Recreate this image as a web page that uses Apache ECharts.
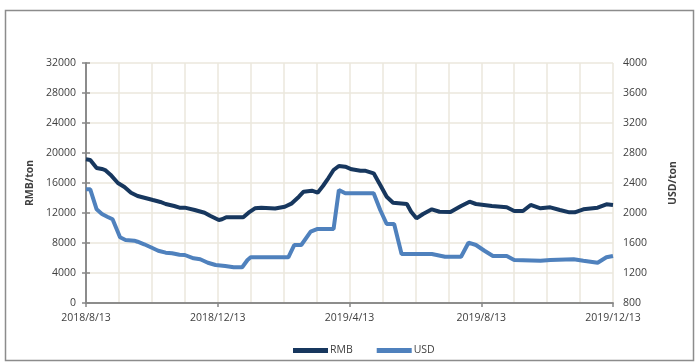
<!DOCTYPE html>
<html>
<head>
<meta charset="utf-8">
<script src="https://cdn.jsdelivr.net/npm/echarts@6/dist/echarts.min.js"></script>
<style>html,body{margin:0;padding:0;background:#fff;}#c{width:695px;height:364px;}</style>
</head>
<body>
<div id="c"></div>
<script>
const tickLabels = ['2018/8/13', '2018/12/13', '2019/4/13', '2019/8/13', '2019/12/13'];
const rmbDates = ['2018-08-13','2018-08-17','2018-08-23','2018-08-28','2018-08-31','2018-09-05','2018-09-12','2018-09-18','2018-09-24','2018-09-30','2018-10-07','2018-10-14','2018-10-21','2018-10-26','2018-11-03','2018-11-08','2018-11-13','2018-11-22','2018-12-01','2018-12-06','2018-12-14','2018-12-17','2018-12-21','2019-01-06','2019-01-11','2019-01-17','2019-01-23','2019-02-05','2019-02-14','2019-02-20','2019-02-26','2019-03-02','2019-03-09','2019-03-14','2019-03-19','2019-03-24','2019-03-29','2019-04-03','2019-04-09','2019-04-15','2019-04-23','2019-04-27','2019-05-05','2019-05-11','2019-05-17','2019-05-23','2019-06-05','2019-06-09','2019-06-14','2019-06-20','2019-06-28','2019-07-05','2019-07-15','2019-07-25','2019-08-02','2019-08-08','2019-08-23','2019-09-06','2019-09-13','2019-09-21','2019-09-28','2019-10-07','2019-10-16','2019-10-25','2019-11-03','2019-11-08','2019-11-16','2019-11-29','2019-12-07','2019-12-13'];
const rmbValues = [19160,19070,18000,17870,17730,17110,16000,15470,14710,14270,14000,13730,13470,13200,12930,12710,12710,12400,12040,11640,11070,11160,11430,11430,12040,12630,12710,12600,12840,13290,14170,14840,14970,14710,15600,16630,17730,18270,18170,17830,17640,17640,17290,15730,14170,13370,13200,12170,11290,11870,12490,12170,12130,12930,13510,13200,12930,12760,12270,12270,13070,12630,12760,12400,12090,12090,12490,12710,13160,13070];
const usdDates = ['2018-08-13','2018-08-17','2018-08-23','2018-08-28','2018-09-02','2018-09-07','2018-09-14','2018-09-19','2018-09-27','2018-09-30','2018-10-06','2018-10-12','2018-10-19','2018-10-26','2018-11-01','2018-11-08','2018-11-13','2018-11-21','2018-11-27','2018-12-04','2018-12-11','2018-12-20','2018-12-28','2019-01-05','2019-01-10','2019-01-13','2019-02-17','2019-02-22','2019-02-28','2019-03-08','2019-03-14','2019-03-29','2019-04-03','2019-04-09','2019-05-05','2019-05-11','2019-05-17','2019-05-24','2019-05-31','2019-06-28','2019-07-10','2019-07-25','2019-08-01','2019-08-08','2019-08-16','2019-08-24','2019-09-06','2019-09-13','2019-10-07','2019-10-16','2019-11-07','2019-11-16','2019-11-29','2019-12-07','2019-12-13'];
const usdValues = [2316,2316,2049,1987,1951,1916,1676,1640,1631,1617,1583,1543,1497,1471,1463,1444,1440,1396,1383,1337,1307,1293,1276,1276,1373,1409,1409,1573,1573,1751,1787,1787,2307,2263,2263,2040,1853,1853,1453,1453,1417,1417,1604,1573,1497,1427,1427,1373,1364,1373,1383,1364,1337,1409,1427];

// month offset from 2018-08-13 (each month = one unit, like the reference's month grid)
function monthPos(s) {
  const p = s.split('-').map(Number);
  const y = p[0], m = p[1], d = p[2];
  let k = (y - 2018) * 12 + (m - 8);
  let start = Date.UTC(y, m - 1, 13);
  if (d < 13) { k -= 1; start = Date.UTC(y, m - 2, 13); }
  const sd = new Date(start);
  const next = Date.UTC(sd.getUTCFullYear(), sd.getUTCMonth() + 1, 13);
  const t = Date.UTC(y, m - 1, d);
  return k + (t - start) / (next - start);
}
const rmbData = rmbDates.map((d, i) => [monthPos(d), rmbValues[i]]);
const usdData = usdDates.map((d, i) => [monthPos(d), usdValues[i]]);

const font = 'Open Sans, sans-serif';
const txt = '#404040';
const axisGray = '#868686';
const gridCol = '#ebe7dc';

const chart = echarts.init(document.getElementById('c'), null, {renderer: 'canvas'});
chart.setOption({
  animation: false,
  backgroundColor: '#fff',
  textStyle: {fontFamily: font},
  graphic: [{
    type: 'rect', left: 3, top: 8, shape: {width: 688, height: 350},
    style: {fill: 'none', stroke: '#8c8c8c', lineWidth: 1.5}, silent: true
  }],
  grid: {left: 86, right: 82, top: 63, bottom: 61, containLabel: false},
  legend: {
    left: 288, top: 340, icon: 'rect', itemWidth: 35, itemHeight: 5, itemGap: 24,
    textStyle: {fontFamily: font, fontSize: 10.5, color: txt, padding: [0, 0, 0, -3]},
    data: ['RMB', 'USD']
  },
  xAxis: [{
    type: 'value', min: 0, max: 16, interval: 1,
    axisLine: {show: true, lineStyle: {color: axisGray, width: 1.5}},
    axisTick: {show: false}, axisLabel: {show: false},
    splitLine: {show: true, lineStyle: {color: gridCol, width: 1.5}}
  }, {
    type: 'value', min: 0, max: 16, interval: 4, position: 'bottom',
    axisLine: {show: true, lineStyle: {color: axisGray, width: 1.5}},
    axisTick: {show: true, length: 4, lineStyle: {color: axisGray, width: 1.5}},
    axisLabel: {show: true, margin: 10, color: txt, fontSize: 10.5, fontFamily: font,
      formatter: v => tickLabels[Math.round(v / 4)] || ''},
    splitLine: {show: false}
  }],
  yAxis: [{
    type: 'value', min: 0, max: 32000, interval: 4000, position: 'left',
    name: 'RMB/ton', nameLocation: 'middle', nameGap: 50,
    nameTextStyle: {color: txt, fontSize: 10.5, fontWeight: 'bold', fontFamily: font},
    axisLine: {show: true, lineStyle: {color: axisGray, width: 1.5}},
    axisTick: {show: true, length: 4, lineStyle: {color: axisGray, width: 1.5}},
    axisLabel: {color: txt, fontSize: 10.5, margin: 10, fontFamily: font, formatter: v => String(v)},
    splitLine: {show: true, lineStyle: {color: gridCol, width: 1.5}}
  }, {
    type: 'value', min: 800, max: 4000, interval: 400, position: 'right',
    name: 'USD/ton', nameLocation: 'middle', nameGap: 55, nameRotate: 90,
    nameTextStyle: {color: txt, fontSize: 10.5, fontWeight: 'bold', fontFamily: font},
    axisLine: {show: true, lineStyle: {color: axisGray, width: 1.5}},
    axisTick: {show: true, length: 4, lineStyle: {color: axisGray, width: 1.5}},
    axisLabel: {color: txt, fontSize: 10.5, margin: 10, fontFamily: font, formatter: v => String(v)},
    splitLine: {show: false}
  }],
  series: [{
    name: 'RMB', type: 'line', xAxisIndex: 0, yAxisIndex: 0, data: rmbData,
    showSymbol: false, color: '#17375e', lineStyle: {width: 4, color: '#17375e'}
  }, {
    name: 'USD', type: 'line', xAxisIndex: 0, yAxisIndex: 1, data: usdData,
    showSymbol: false, color: '#4f81bd', lineStyle: {width: 4, color: '#4f81bd'}
  }]
});
</script>
</body>
</html>
